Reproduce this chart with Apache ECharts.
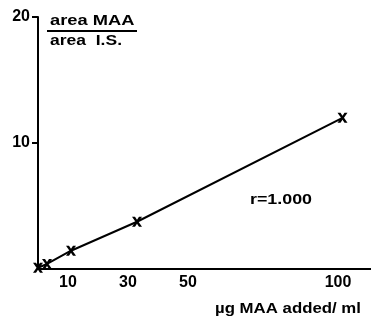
<!DOCTYPE html>
<html><head><meta charset="utf-8">
<script src="https://cdn.jsdelivr.net/npm/echarts@6/dist/echarts.min.js"></script>
<style>html,body{margin:0;padding:0;background:#fff}#c{width:371px;height:320px}</style>
</head><body><div id="c"></div>
<script>
const xValues = [0, 3, 11, 33, 101.5];
const yValues = [0.1, 0.4, 1.45, 3.75, 12.0];
const xTickLabels = [10, 30, 50, 100];
const yTickLabels = [10, 20];
const titleTop = 'area MAA';
const titleBottom = 'area  I.S.';
const rLabel = 'r=1.000';
const xName = 'µg MAA added/ ml';

const FONT = '"Liberation Sans", Arial, sans-serif';
const chart = echarts.init(document.getElementById('c'), null, {renderer: 'canvas'});
const cross = 'path://M0,0 L3,0 L5,3 L7,0 L10,0 L6.5,5 L10,10 L7,10 L5,7 L3,10 L0,10 L3.5,5 Z';
function txt(x, y, text, size, sx) {
  return {type: 'text', x: x, y: y, scaleX: sx, z: 10,
    style: {text: text, font: 'bold ' + size + 'px ' + FONT, fill: '#000', verticalAlign: 'top', align: 'left'}};
}
chart.setOption({
  animation: false,
  backgroundColor: '#fff',
  grid: {left: 38, right: 0, top: 17, bottom: 51},
  xAxis: {
    type: 'value', min: 0, max: 111,
    axisLine: {lineStyle: {color: '#000', width: 2}},
    axisTick: {show: false},
    splitLine: {show: false},
    axisLabel: {customValues: xTickLabels, color: '#000', fontFamily: FONT, fontWeight: 'bold', fontSize: 16, margin: 6}
  },
  yAxis: {
    type: 'value', min: 0, max: 20, interval: 10,
    axisLine: {show: true, lineStyle: {color: '#000', width: 2}},
    axisTick: {show: true, customValues: yTickLabels, length: 6, lineStyle: {width: 2, color: '#000'}},
    splitLine: {show: false},
    axisLabel: {customValues: yTickLabels, color: '#000', fontFamily: FONT, fontWeight: 'bold', fontSize: 16, margin: 8}
  },
  series: [{
    type: 'line',
    data: xValues.map((x, i) => [x, yValues[i]]),
    symbol: cross, symbolSize: 10,
    showAllSymbol: true,
    lineStyle: {color: '#000', width: 2},
    itemStyle: {color: '#000'}
  }],
  graphic: [
    txt(50, 13, titleTop, 15, 1.22),
    {type: 'line', shape: {x1: 47, y1: 31, x2: 137, y2: 31}, style: {stroke: '#000', lineWidth: 2}},
    txt(50, 34, titleBottom, 14, 1.25),
    txt(250, 192, rLabel, 15, 1.19),
    txt(215, 301, xName, 15, 1.12)
  ]
});
</script></body></html>
